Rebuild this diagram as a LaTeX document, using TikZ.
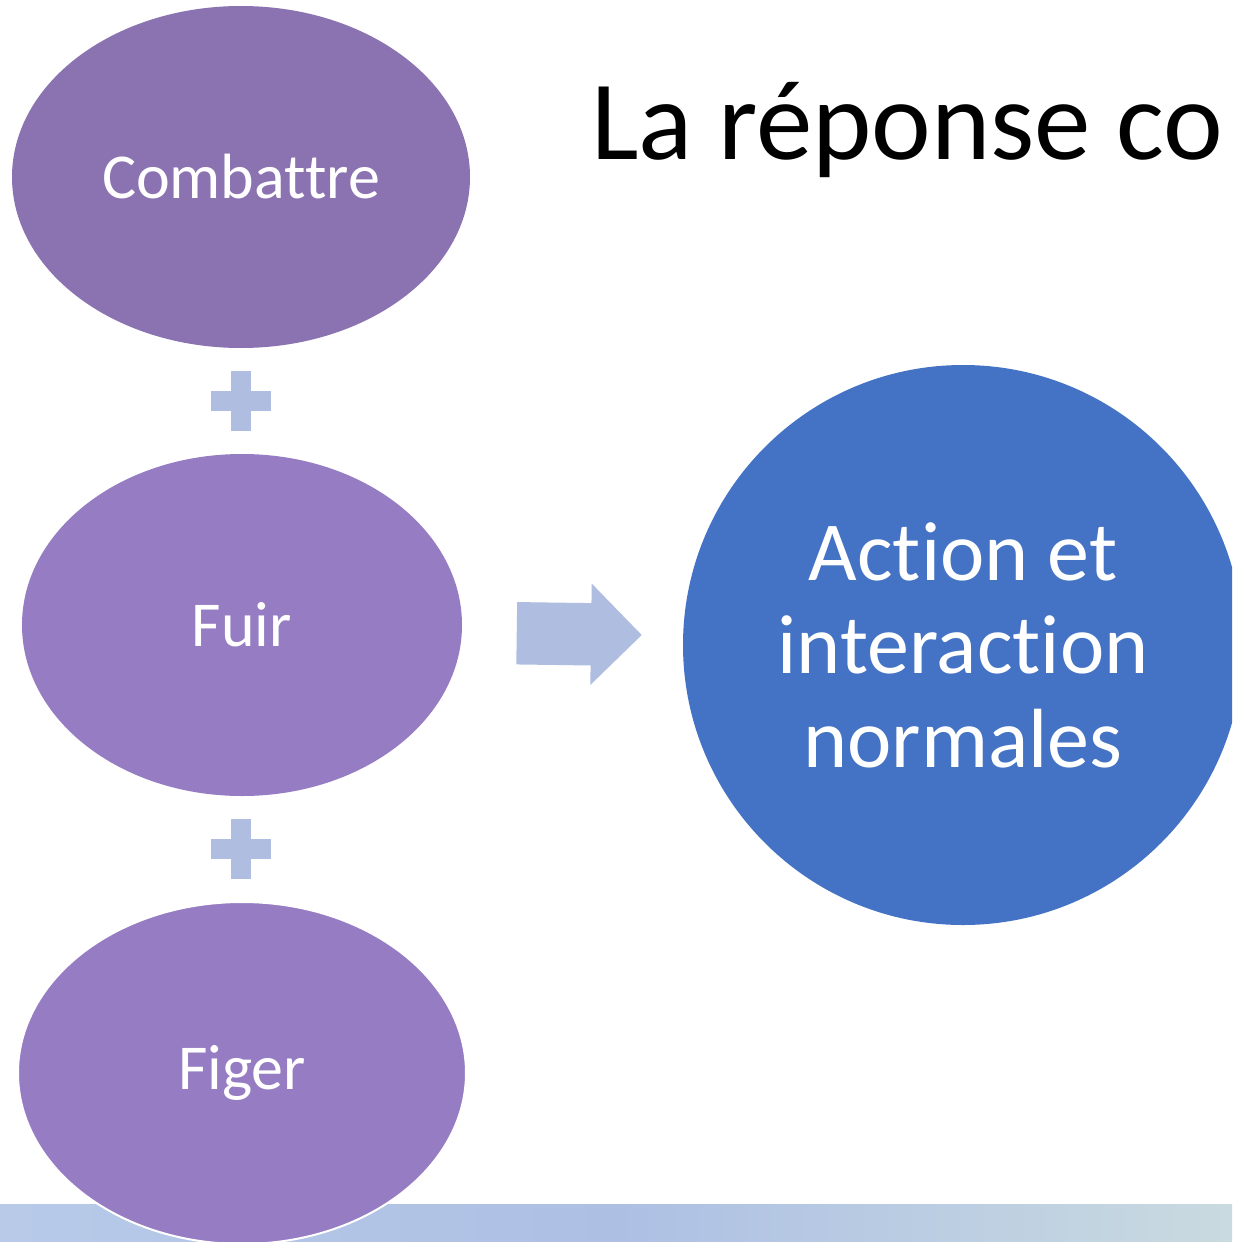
\documentclass[tikz,border=0pt]{standalone}
\usepackage{fontspec}
\setmainfont[Ligatures={NoCommon}]{Carlito}
\usetikzlibrary{shapes.geometric,shapes.arrows}
\definecolor{violetA}{RGB}{139,115,177}
\definecolor{violetB}{RGB}{150,124,194}
\definecolor{paleblue}{RGB}{175,190,224}
\definecolor{bigblue}{RGB}{68,114,196}
\definecolor{barL}{RGB}{184,202,232}
\definecolor{barM}{RGB}{173,192,228}
\definecolor{barR}{RGB}{201,218,224}
\tikzset{
  oval/.style={ellipse, inner sep=0pt, text=white, font=\fontsize{64}{77}\selectfont},
  plussign/.style={fill=paleblue},
  bigcircle/.style={circle, fill=bigblue, inner sep=0pt, minimum size=560pt, text=white,
    align=center, font=\fontsize{84}{93.5}\selectfont},
  fatarrow/.style={single arrow, fill=paleblue, inner xsep=0pt, inner ysep=31pt,
    minimum height=125pt, minimum width=101pt, single arrow head extend=19.5pt,
    single arrow tip angle=90}
}
\begin{document}
\begin{tikzpicture}[x=1pt,y=-1pt]
\path[use as bounding box, clip] (0,0) rectangle (1232,1242);
\fill[white] (0,0) rectangle (1232,1242);
% bottom bar
\shade[left color=barL, right color=barM] (0,1204) rectangle (616,1242);
\shade[left color=barM, right color=barR] (616,1204) rectangle (1232,1242);
% title
\node[anchor=base west, inner sep=0pt, font=\fontsize{113}{135}\selectfont] (title) at (591,159) {La réponse co};
% ellipses
\node[oval, fill=violetA, minimum width=458pt, minimum height=342pt] (comb) at (241,177) {Combattre};
\node[oval, fill=violetB, minimum width=440pt, minimum height=342pt] (fuir) at (242,625) {Fuir};
\node[oval, fill=violetB, draw=white, line width=2pt, minimum width=448pt, minimum height=342pt] (figer) at (242,1073) {Figer};
% plus signs
\fill[plussign] (231,371) rectangle (251,431);
\fill[plussign] (211,391) rectangle (271,411);
\fill[plussign] (231,819) rectangle (251,879);
\fill[plussign] (211,839) rectangle (271,859);
% arrow
\node[fatarrow, rotate=-0.8, anchor=tip] (arr) at (642,635) {};
% big circle
\node[bigcircle] (action) at (963,645) {Action et\\interaction\\normales};
\end{tikzpicture}
\end{document}
